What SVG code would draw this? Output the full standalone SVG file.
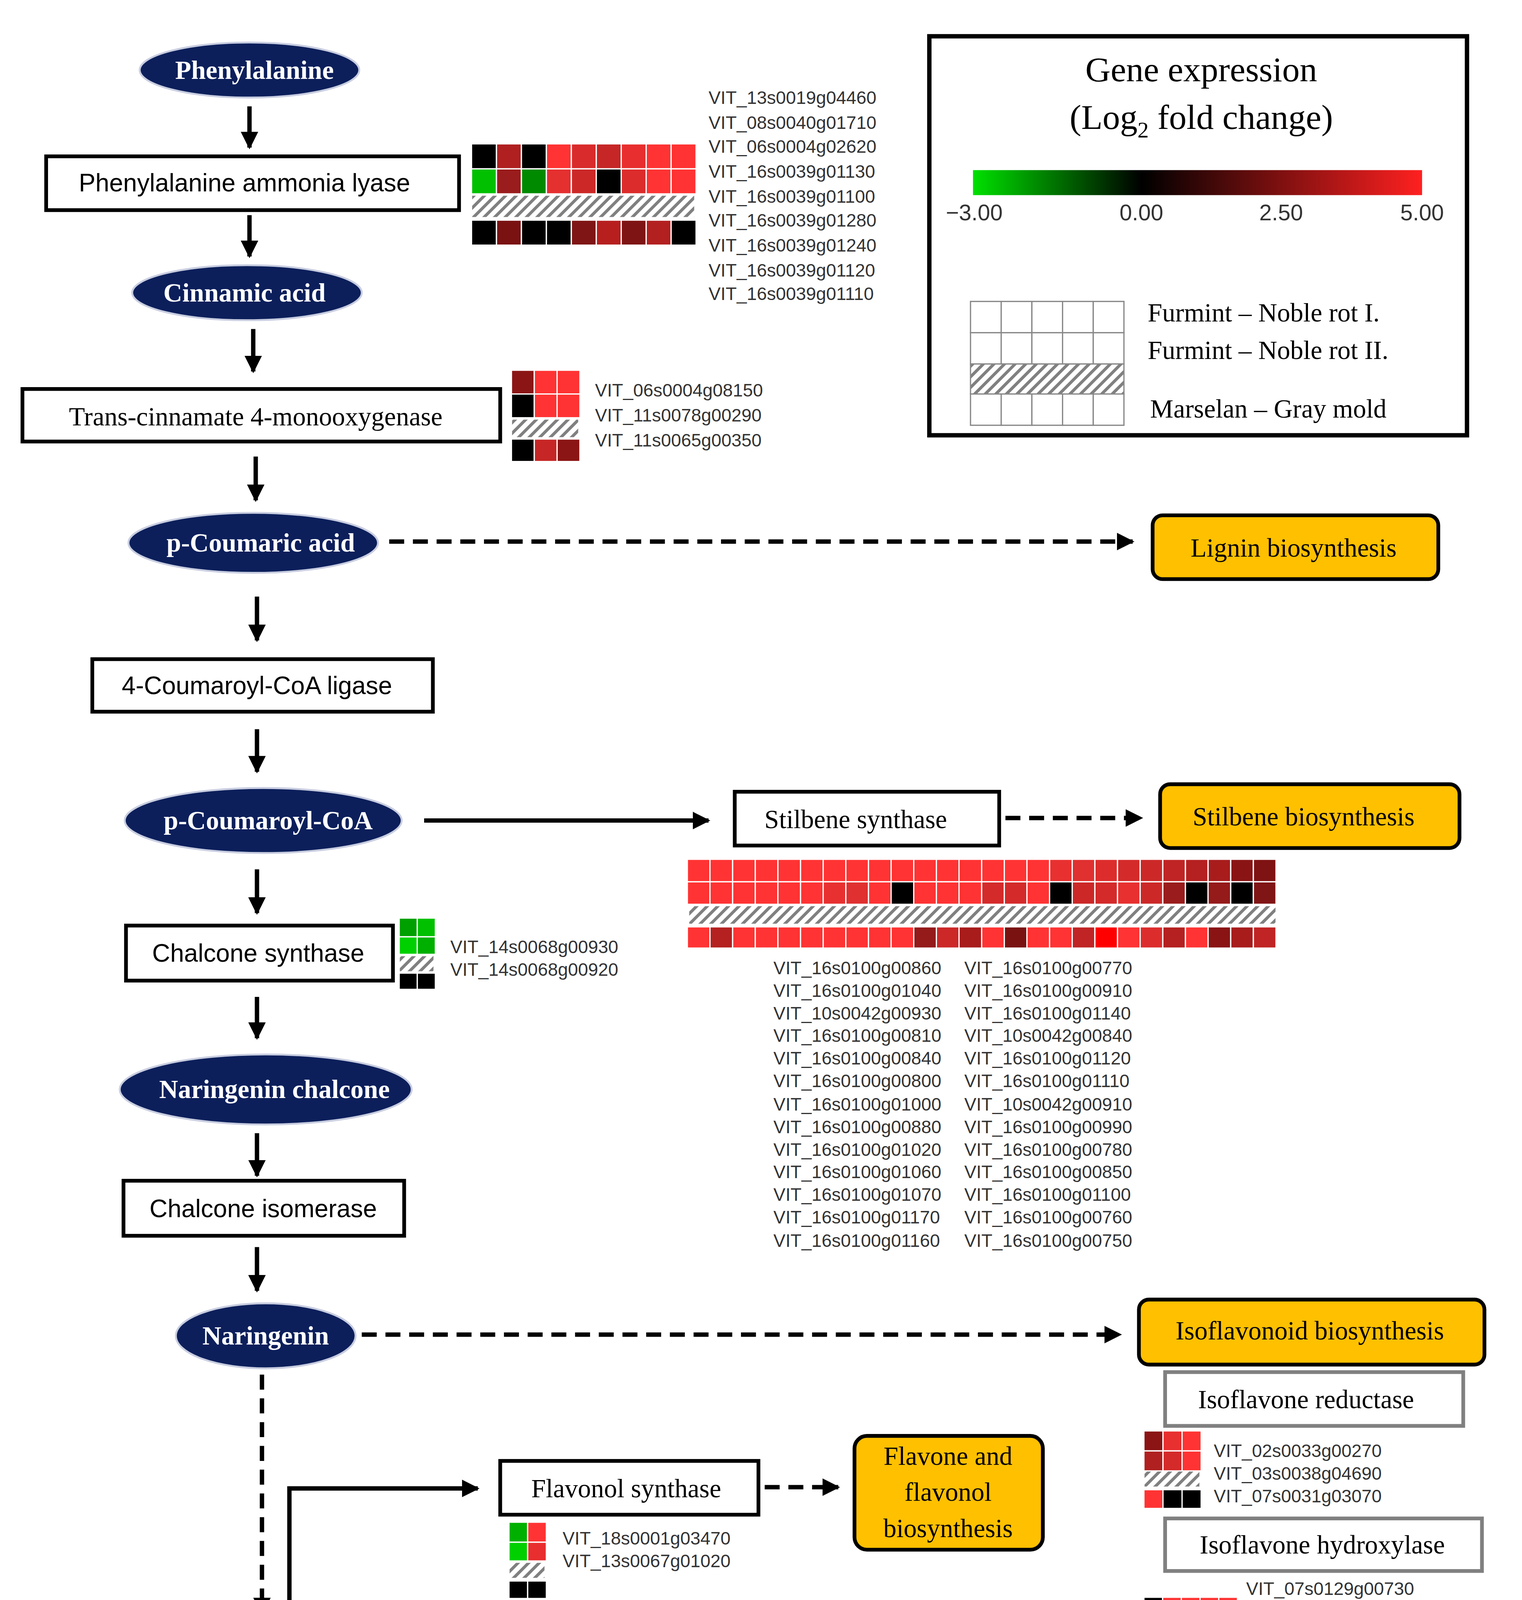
<svg xmlns="http://www.w3.org/2000/svg" width="3897" height="5021" viewBox="0 0 3897 5021">
<defs>
<pattern id="h" patternUnits="userSpaceOnUse" width="6" height="6" patternTransform="rotate(45)"><rect width="6" height="6" fill="#fff"/><rect width="2.4" height="6" fill="#808080"/></pattern>
<linearGradient id="g" x1="0" x2="1"><stop offset="0" stop-color="#00e000"/><stop offset="0.375" stop-color="#000"/><stop offset="1" stop-color="#ff2020"/></linearGradient>
<marker id="a" viewBox="0 0 10 10" refX="9" refY="5" markerWidth="4" markerHeight="4" orient="auto"><path d="M0,0L10,5L0,10z" fill="#000"/></marker>
</defs>
<style>
.el{fill:#0c1f5b;stroke:#c8cde0;stroke-width:1.5}
.et{font-family:"Liberation Serif",serif;font-weight:bold;font-size:21px;fill:#fff;text-anchor:middle}
.bx{fill:#fff;stroke:#000;stroke-width:3}
.gb{fill:#fff;stroke:#808080;stroke-width:3}
.ob{fill:#ffc000;stroke:#000;stroke-width:3}
.st{font-family:"Liberation Serif",serif;font-size:21px;fill:#000;text-anchor:middle}
.ss{font-family:"Liberation Sans",sans-serif;font-size:20px;fill:#000;text-anchor:middle}
.gt{font-family:"Liberation Sans",sans-serif;font-size:14.5px;fill:#333}
.ln{stroke:#000;stroke-width:3.5;fill:none;marker-end:url(#a)}
.dl{stroke:#000;stroke-width:3.5;fill:none;stroke-dasharray:12,7;marker-end:url(#a)}
.c rect{stroke:#fff;stroke-width:1}
.ht{fill:url(#h);stroke:#1f6fa8;stroke-width:1.2}
</style>
<rect width="3897" height="5021" fill="#fff"/>
<g transform="scale(3.194,3.202)">
<g id="connectors">
<line class="ln" x1="200" y1="85" x2="200" y2="118"/>
<line class="ln" x1="200" y1="172" x2="200" y2="205"/>
<line class="ln" x1="203" y1="263" x2="203" y2="297"/>
<line class="ln" x1="205" y1="365" x2="205" y2="400"/>
<line class="dl" x1="312" y1="433" x2="908" y2="433"/>
<line class="ln" x1="206" y1="477" x2="206" y2="512"/>
<line class="ln" x1="206" y1="583" x2="206" y2="617"/>
<line class="ln" x1="340" y1="656" x2="568" y2="656"/>
<line class="dl" x1="806" y1="654" x2="915" y2="654"/>
<line class="ln" x1="206" y1="695" x2="206" y2="730"/>
<line class="ln" x1="206" y1="797" x2="206" y2="830"/>
<line class="ln" x1="206" y1="906" x2="206" y2="940"/>
<line class="ln" x1="206" y1="997" x2="206" y2="1032"/>
<line class="dl" x1="290" y1="1067" x2="898" y2="1067"/>
<line class="dl" x1="210" y1="1080" x2="210" y2="1290"/>
<path class="ln" d="M232,1290V1190H383"/>
<line class="dl" x1="613" y1="1189" x2="672" y2="1189"/>
<line class="dl" x1="335" y1="1332" x2="386" y2="1362"/>
<line class="dl" x1="325" y1="1388" x2="398" y2="1388"/>
<line class="dl" x1="330" y1="1447" x2="386" y2="1422"/>
<line class="dl" x1="686" y1="1394" x2="893" y2="1395"/>
</g>
<g id="phenylalanine"><ellipse class="el" cx="200" cy="56" rx="88" ry="22"/><text class="et" x="204" y="63">Phenylalanine</text></g>
<g id="pal"><rect class="bx" x="37" y="125" width="331" height="43"/><text class="ss" x="196" y="153">Phenylalanine ammonia lyase</text></g>
<g id="cinnamic"><ellipse class="el" cx="198" cy="234" rx="92" ry="22"/><text class="et" x="196" y="241">Cinnamic acid</text></g>
<g id="c4h"><rect class="bx" x="18" y="311" width="383" height="42"/><text class="st" x="205" y="340">Trans-cinnamate  4-monooxygenase</text></g>
<g id="coumaric"><ellipse class="el" cx="203" cy="434" rx="100" ry="24"/><text class="et" x="209" y="441">p-Coumaric acid</text></g>
<g id="lignin"><rect class="ob" x="924" y="412" width="229" height="51" rx="8"/><text class="st" x="1037" y="445">Lignin  biosynthesis</text></g>
<g id="4cl"><rect class="bx" x="74" y="527" width="273" height="42"/><text class="ss" x="206" y="555">4-Coumaroyl-CoA ligase</text></g>
<g id="coumaroylcoa"><ellipse class="el" cx="211" cy="656" rx="111" ry="26"/><text class="et" x="215" y="663">p-Coumaroyl-CoA</text></g>
<g id="sts"><rect class="bx" x="589" y="633" width="212" height="43"/><text class="st" x="686" y="662">Stilbene  synthase</text></g>
<g id="stilbene"><rect class="ob" x="930" y="627" width="240" height="51" rx="8"/><text class="st" x="1045" y="660">Stilbene  biosynthesis</text></g>
<g id="chs"><rect class="bx" x="101" y="740" width="214" height="44"/><text class="ss" x="207" y="769">Chalcone synthase</text></g>
<g id="narchalcone"><ellipse class="el" cx="213" cy="871" rx="117" ry="28"/><text class="et" x="220" y="878">Naringenin chalcone</text></g>
<g id="chi"><rect class="bx" x="99" y="944" width="225" height="44"/><text class="ss" x="211" y="973">Chalcone isomerase</text></g>
<g id="naringenin"><ellipse class="el" cx="213" cy="1068" rx="72" ry="26"/><text class="et" x="213" y="1075">Naringenin</text></g>
<g id="isoflavonoid"><rect class="ob" x="913" y="1039" width="277" height="52" rx="8"/><text class="st" x="1050" y="1071">Isoflavonoid biosynthesis</text></g>
<g id="ifr"><rect class="gb" x="934" y="1097" width="239" height="43"/><text class="st" x="1047" y="1126">Isoflavone reductase</text></g>
<g id="ifh"><rect class="gb" x="934" y="1214" width="254" height="42"/><text class="st" x="1060" y="1242">Isoflavone hydroxylase</text></g>
<g id="fls"><rect class="bx" x="401" y="1168" width="207" height="43"/><text class="st" x="502" y="1197">Flavonol synthase</text></g>
<g id="flavone"><rect class="ob" x="685" y="1148" width="151" height="91" rx="10"/><text class="st" x="760" y="1171">Flavone and</text><text class="st" x="760" y="1200">flavonol</text><text class="st" x="760" y="1229">biosynthesis</text></g>
<g id="dhk"><ellipse class="el" cx="214" cy="1330" rx="116" ry="24"/><text class="et" x="216" y="1337">Dihydrokaempferol</text></g>
<g id="dhq"><ellipse class="el" cx="215" cy="1385" rx="102" ry="24"/><text class="et" x="216" y="1392">Dihydroquercetin</text></g>
<g id="dhm"><ellipse class="el" cx="219" cy="1442" rx="98" ry="24"/><text class="et" x="221" y="1449">Dihydromyricetin</text></g>
<g id="ufgt"><rect class="bx" x="407" y="1358" width="275" height="72"/><text class="st" x="544" y="1388">UDP-Glc:flavonoid  3-O-</text><text class="st" x="544" y="1417">glucosyltransferase</text></g>
<g id="anthocyanin"><rect class="ob" x="902" y="1371" width="281" height="50" rx="8"/><text class="st" x="1040" y="1403">Anthocyanin biosynthesis</text></g>
<g id="a3gt"><rect class="gb" x="782" y="1430" width="406" height="42"/><text class="st" x="982" y="1459">Anthocyanidin  3-o-glycosyltransferase</text></g>

<g id="heat-pal" class="c">
<rect x="378" y="115" width="20" height="20" fill="#000"/><rect x="398" y="115" width="20" height="20" fill="#b02020"/><rect x="418" y="115" width="20" height="20" fill="#000"/><rect x="438" y="115" width="20" height="20" fill="#f33"/><rect x="458" y="115" width="20" height="20" fill="#d92b2b"/><rect x="478" y="115" width="20" height="20" fill="#c62626"/><rect x="498" y="115" width="20" height="20" fill="#e82e2e"/><rect x="518" y="115" width="20" height="20" fill="#f33"/><rect x="538" y="115" width="20" height="20" fill="#f33"/>
<rect x="378" y="135" width="20" height="20" fill="#00c000"/><rect x="398" y="135" width="20" height="20" fill="#9a1c1c"/><rect x="418" y="135" width="20" height="20" fill="#008a00"/><rect x="438" y="135" width="20" height="20" fill="#e53030"/><rect x="458" y="135" width="20" height="20" fill="#cc2828"/><rect x="478" y="135" width="20" height="20" fill="#000"/><rect x="498" y="135" width="20" height="20" fill="#dd2c2c"/><rect x="518" y="135" width="20" height="20" fill="#f33"/><rect x="538" y="135" width="20" height="20" fill="#f33"/>
<rect class="ht" x="378" y="156" width="179" height="18"/>
<rect x="378" y="176" width="20" height="20" fill="#000"/><rect x="398" y="176" width="20" height="20" fill="#7a1212"/><rect x="418" y="176" width="20" height="20" fill="#000"/><rect x="438" y="176" width="20" height="20" fill="#000"/><rect x="458" y="176" width="20" height="20" fill="#801515"/><rect x="478" y="176" width="20" height="20" fill="#b71f1f"/><rect x="498" y="176" width="20" height="20" fill="#7f1414"/><rect x="518" y="176" width="20" height="20" fill="#b32020"/><rect x="538" y="176" width="20" height="20" fill="#000"/>
</g>
<g id="genes-pal" class="gt"><text x="568" y="83">VIT_13s0019g04460</text><text x="568" y="103">VIT_08s0040g01710</text><text x="568" y="122">VIT_06s0004g02620</text><text x="568" y="142">VIT_16s0039g01130</text><text x="568" y="162">VIT_16s0039g01100</text><text x="568" y="181">VIT_16s0039g01280</text><text x="568" y="201">VIT_16s0039g01240</text><text x="568" y="221">VIT_16s0039g01120</text><text x="568" y="240">VIT_16s0039g01110</text></g>

<g id="heat-c4h" class="c">
<rect x="410" y="296" width="18.3" height="19" fill="#8b1515"/><rect x="428.3" y="296" width="18.3" height="19" fill="#f33"/><rect x="446.6" y="296" width="18.3" height="19" fill="#f33"/>
<rect x="410" y="315" width="18.3" height="19" fill="#000"/><rect x="428.3" y="315" width="18.3" height="19" fill="#f33"/><rect x="446.6" y="315" width="18.3" height="19" fill="#f33"/>
<rect class="ht" x="410" y="335" width="54" height="15"/>
<rect x="410" y="351" width="18.3" height="18" fill="#000"/><rect x="428.3" y="351" width="18.3" height="18" fill="#c62626"/><rect x="446.6" y="351" width="18.3" height="18" fill="#8b1515"/>
</g>
<g id="genes-c4h" class="gt"><text x="477" y="317">VIT_06s0004g08150</text><text x="477" y="337">VIT_11s0078g00290</text><text x="477" y="357">VIT_11s0065g00350</text></g>

<g id="heat-sts" class="c">
<g fill="#f33"><rect x="551" y="687" width="18.15" height="18"/><rect x="569.15" y="687" width="18.15" height="18"/><rect x="587.3" y="687" width="18.15" height="18"/><rect x="605.45" y="687" width="18.15" height="18"/><rect x="623.6" y="687" width="18.15" height="18"/><rect x="641.75" y="687" width="18.15" height="18"/><rect x="659.9" y="687" width="18.15" height="18"/><rect x="678.05" y="687" width="18.15" height="18"/><rect x="696.2" y="687" width="18.15" height="18"/><rect x="714.35" y="687" width="18.15" height="18"/><rect x="732.5" y="687" width="18.15" height="18"/><rect x="750.65" y="687" width="18.15" height="18"/><rect x="768.8" y="687" width="18.15" height="18"/><rect x="786.95" y="687" width="18.15" height="18"/><rect x="805.1" y="687" width="18.15" height="18"/><rect x="823.25" y="687" width="18.15" height="18"/></g>
<rect x="841.4" y="687" width="18.15" height="18" fill="#e83030"/><rect x="859.55" y="687" width="18.15" height="18" fill="#e03030"/><rect x="877.7" y="687" width="18.15" height="18" fill="#dd2c2c"/><rect x="895.85" y="687" width="18.15" height="18" fill="#d42a2a"/><rect x="914" y="687" width="18.15" height="18" fill="#cc2828"/><rect x="932.15" y="687" width="18.15" height="18" fill="#c02424"/><rect x="950.3" y="687" width="18.15" height="18" fill="#b52020"/><rect x="968.45" y="687" width="18.15" height="18" fill="#a81c1c"/><rect x="986.6" y="687" width="18.15" height="18" fill="#8a1414"/><rect x="1004.75" y="687" width="18.15" height="18" fill="#7f1212"/>
<rect x="551" y="705" width="18.15" height="18" fill="#f33"/><rect x="569.15" y="705" width="18.15" height="18" fill="#f33"/><rect x="587.3" y="705" width="18.15" height="18" fill="#f33"/><rect x="605.45" y="705" width="18.15" height="18" fill="#f33"/><rect x="623.6" y="705" width="18.15" height="18" fill="#f33"/><rect x="641.75" y="705" width="18.15" height="18" fill="#f33"/><rect x="659.9" y="705" width="18.15" height="18" fill="#e83030"/><rect x="678.05" y="705" width="18.15" height="18" fill="#e03030"/><rect x="696.2" y="705" width="18.15" height="18" fill="#f33"/><rect x="714.35" y="705" width="18.15" height="18" fill="#000"/><rect x="732.5" y="705" width="18.15" height="18" fill="#f33"/><rect x="750.65" y="705" width="18.15" height="18" fill="#f33"/><rect x="768.8" y="705" width="18.15" height="18" fill="#f33"/><rect x="786.95" y="705" width="18.15" height="18" fill="#d42a2a"/><rect x="805.1" y="705" width="18.15" height="18" fill="#d42a2a"/><rect x="823.25" y="705" width="18.15" height="18" fill="#f33"/><rect x="841.4" y="705" width="18.15" height="18" fill="#000"/><rect x="859.55" y="705" width="18.15" height="18" fill="#cc2828"/><rect x="877.7" y="705" width="18.15" height="18" fill="#d42a2a"/><rect x="895.85" y="705" width="18.15" height="18" fill="#e83030"/><rect x="914" y="705" width="18.15" height="18" fill="#cc2828"/><rect x="932.15" y="705" width="18.15" height="18" fill="#9a1c1c"/><rect x="950.3" y="705" width="18.15" height="18" fill="#000"/><rect x="968.45" y="705" width="18.15" height="18" fill="#951a1a"/><rect x="986.6" y="705" width="18.15" height="18" fill="#000"/><rect x="1004.75" y="705" width="18.15" height="18" fill="#801515"/>
<rect class="ht" x="552" y="724" width="471" height="15"/>
<rect x="551" y="741" width="18.15" height="17" fill="#f33"/><rect x="569.15" y="741" width="18.15" height="17" fill="#b52020"/><rect x="587.3" y="741" width="18.15" height="17" fill="#f33"/><rect x="605.45" y="741" width="18.15" height="17" fill="#f33"/><rect x="623.6" y="741" width="18.15" height="17" fill="#f33"/><rect x="641.75" y="741" width="18.15" height="17" fill="#f33"/><rect x="659.9" y="741" width="18.15" height="17" fill="#f33"/><rect x="678.05" y="741" width="18.15" height="17" fill="#f33"/><rect x="696.2" y="741" width="18.15" height="17" fill="#f33"/><rect x="714.35" y="741" width="18.15" height="17" fill="#f33"/><rect x="732.5" y="741" width="18.15" height="17" fill="#951a1a"/><rect x="750.65" y="741" width="18.15" height="17" fill="#cc2828"/><rect x="768.8" y="741" width="18.15" height="17" fill="#a81c1c"/><rect x="786.95" y="741" width="18.15" height="17" fill="#f33"/><rect x="805.1" y="741" width="18.15" height="17" fill="#7a1212"/><rect x="823.25" y="741" width="18.15" height="17" fill="#f33"/><rect x="841.4" y="741" width="18.15" height="17" fill="#f33"/><rect x="859.55" y="741" width="18.15" height="17" fill="#c02424"/><rect x="877.7" y="741" width="18.15" height="17" fill="#ff0000"/><rect x="895.85" y="741" width="18.15" height="17" fill="#f33"/><rect x="914" y="741" width="18.15" height="17" fill="#dd2c2c"/><rect x="932.15" y="741" width="18.15" height="17" fill="#b52020"/><rect x="950.3" y="741" width="18.15" height="17" fill="#f33"/><rect x="968.45" y="741" width="18.15" height="17" fill="#8a1414"/><rect x="986.6" y="741" width="18.15" height="17" fill="#a81c1c"/><rect x="1004.75" y="741" width="18.15" height="17" fill="#c02424"/>
</g>
<g id="genes-sts" class="gt">
<text x="620" y="779">VIT_16s0100g00860</text><text x="620" y="797">VIT_16s0100g01040</text><text x="620" y="815">VIT_10s0042g00930</text><text x="620" y="833">VIT_16s0100g00810</text><text x="620" y="851">VIT_16s0100g00840</text><text x="620" y="869">VIT_16s0100g00800</text><text x="620" y="888">VIT_16s0100g01000</text><text x="620" y="906">VIT_16s0100g00880</text><text x="620" y="924">VIT_16s0100g01020</text><text x="620" y="942">VIT_16s0100g01060</text><text x="620" y="960">VIT_16s0100g01070</text><text x="620" y="978">VIT_16s0100g01170</text><text x="620" y="997">VIT_16s0100g01160</text>
<text x="773" y="779">VIT_16s0100g00770</text><text x="773" y="797">VIT_16s0100g00910</text><text x="773" y="815">VIT_16s0100g01140</text><text x="773" y="833">VIT_10s0042g00840</text><text x="773" y="851">VIT_16s0100g01120</text><text x="773" y="869">VIT_16s0100g01110</text><text x="773" y="888">VIT_10s0042g00910</text><text x="773" y="906">VIT_16s0100g00990</text><text x="773" y="924">VIT_16s0100g00780</text><text x="773" y="942">VIT_16s0100g00850</text><text x="773" y="960">VIT_16s0100g01100</text><text x="773" y="978">VIT_16s0100g00760</text><text x="773" y="997">VIT_16s0100g00750</text>
</g>

<g id="heat-chs" class="c">
<rect x="320" y="734" width="14.5" height="15" fill="#00a000"/><rect x="334.5" y="734" width="14.5" height="15" fill="#00c000"/>
<rect x="320" y="749" width="14.5" height="14" fill="#00d000"/><rect x="334.5" y="749" width="14.5" height="14" fill="#00b000"/>
<rect class="ht" x="320" y="764" width="28" height="13"/>
<rect x="320" y="778" width="14.5" height="13" fill="#000"/><rect x="334.5" y="778" width="14.5" height="13" fill="#000"/>
</g>
<g id="genes-chs" class="gt"><text x="361" y="762">VIT_14s0068g00930</text><text x="361" y="780">VIT_14s0068g00920</text></g>

<g id="heat-fls" class="c">
<rect x="408" y="1217" width="15" height="16" fill="#00b000"/><rect x="423" y="1217" width="15" height="16" fill="#f33"/>
<rect x="408" y="1233" width="15" height="15" fill="#00d000"/><rect x="423" y="1233" width="15" height="15" fill="#e82e2e"/>
<rect class="ht" x="408" y="1249" width="29" height="13"/>
<rect x="408" y="1264" width="15" height="14" fill="#000"/><rect x="423" y="1264" width="15" height="14" fill="#000"/>
</g>
<g id="genes-fls" class="gt"><text x="451" y="1235">VIT_18s0001g03470</text><text x="451" y="1253">VIT_13s0067g01020</text></g>

<g id="heat-ifr" class="c">
<rect x="917" y="1144" width="15.3" height="16" fill="#8b1515"/><rect x="932.3" y="1144" width="15.3" height="16" fill="#e83030"/><rect x="947.6" y="1144" width="15.3" height="16" fill="#f33"/>
<rect x="917" y="1160" width="15.3" height="16" fill="#b02020"/><rect x="932.3" y="1160" width="15.3" height="16" fill="#d42a2a"/><rect x="947.6" y="1160" width="15.3" height="16" fill="#f33"/>
<rect class="ht" x="917" y="1176" width="45" height="13"/>
<rect x="917" y="1191" width="15.3" height="15" fill="#f33"/><rect x="932.3" y="1191" width="15.3" height="15" fill="#000"/><rect x="947.6" y="1191" width="15.3" height="15" fill="#000"/>
</g>
<g id="genes-ifr" class="gt"><text x="973" y="1165">VIT_02s0033g00270</text><text x="973" y="1183">VIT_03s0038g04690</text><text x="973" y="1201">VIT_07s0031g03070</text></g>

<g id="heat-ifh" class="c">
<rect x="917" y="1277" width="15" height="15" fill="#000"/><rect x="932" y="1277" width="15" height="15" fill="#f33"/><rect x="947" y="1277" width="15" height="15" fill="#f33"/><rect x="962" y="1277" width="15" height="15" fill="#f33"/><rect x="977" y="1277" width="15" height="15" fill="#f33"/>
<rect x="917" y="1292" width="15" height="15" fill="#00a000"/><rect x="932" y="1292" width="15" height="15" fill="#c02424"/><rect x="947" y="1292" width="15" height="15" fill="#f33"/><rect x="962" y="1292" width="15" height="15" fill="#f33"/><rect x="977" y="1292" width="15" height="15" fill="#f33"/>
<rect class="ht" x="917" y="1307" width="74" height="13"/>
<rect x="917" y="1322" width="15" height="14" fill="#000"/><rect x="932" y="1322" width="15" height="14" fill="#000"/><rect x="947" y="1322" width="15" height="14" fill="#000"/><rect x="962" y="1322" width="15" height="14" fill="#f33"/><rect x="977" y="1322" width="15" height="14" fill="#f33"/>
</g>
<g id="genes-ifh" class="gt"><text x="999" y="1275">VIT_07s0129g00730</text><text x="999" y="1293">VIT_07s0129g00800</text><text x="999" y="1311">VIT_07s0129g00820</text><text x="999" y="1329">VIT_09s0002g06440</text><text x="999" y="1347">VIT_09s0002g06450</text></g>

<g id="heat-a3gt" class="c">
<rect x="913" y="1486" width="14" height="14" fill="#f33"/><rect x="927" y="1486" width="14" height="14" fill="#f33"/><rect x="941" y="1486" width="14" height="14" fill="#f33"/>
<rect x="913" y="1500" width="14" height="12" fill="#e82e2e"/><rect x="927" y="1500" width="14" height="12" fill="#f33"/><rect x="941" y="1500" width="14" height="12" fill="#f33"/>
<rect class="ht" x="913" y="1513" width="42" height="13"/>
<rect x="913" y="1528" width="14" height="13" fill="#f33"/><rect x="927" y="1528" width="14" height="13" fill="#f33"/><rect x="941" y="1528" width="14" height="13" fill="#f33"/>
</g>
<g id="genes-a3gt" class="gt"><text x="966" y="1502">VIT_03s0017g02110</text><text x="966" y="1520">VIT_03s0017g02120</text><text x="966" y="1538">VIT_03s0017g02140</text></g>

<g id="legend">
<rect x="745" y="29" width="431" height="319" fill="#fff" stroke="#000" stroke-width="3.5"/>
<text class="st" x="963" y="65" style="font-size:28px">Gene expression</text>
<text class="st" x="963" y="103" style="font-size:28px">(Log<tspan font-size="18" dy="7">2</tspan><tspan dy="-7"> fold change)</tspan></text>
<rect x="780" y="136" width="360" height="20" fill="url(#g)"/>
<g class="gt" style="font-size:18px;text-anchor:middle"><text x="781" y="176">−3.00</text><text x="915" y="176">0.00</text><text x="1027" y="176">2.50</text><text x="1140" y="176">5.00</text></g>
<g fill="#fff" stroke="#888" stroke-width="1">
<rect x="778" y="241" width="24.6" height="25"/><rect x="802.6" y="241" width="24.6" height="25"/><rect x="827.2" y="241" width="24.6" height="25"/><rect x="851.8" y="241" width="24.6" height="25"/><rect x="876.4" y="241" width="24.6" height="25"/>
<rect x="778" y="266" width="24.6" height="25"/><rect x="802.6" y="266" width="24.6" height="25"/><rect x="827.2" y="266" width="24.6" height="25"/><rect x="851.8" y="266" width="24.6" height="25"/><rect x="876.4" y="266" width="24.6" height="25"/>
<rect x="778" y="291" width="123" height="24" fill="url(#h)"/>
<rect x="778" y="315" width="24.6" height="25"/><rect x="802.6" y="315" width="24.6" height="25"/><rect x="827.2" y="315" width="24.6" height="25"/><rect x="851.8" y="315" width="24.6" height="25"/><rect x="876.4" y="315" width="24.6" height="25"/>
</g>
<g class="st" style="text-anchor:start"><text x="920" y="257">Furmint  – Noble rot I.</text><text x="920" y="287">Furmint  – Noble rot II.</text><text x="922" y="334">Marselan  – Gray mold</text></g>
</g>
</g>
</svg>
